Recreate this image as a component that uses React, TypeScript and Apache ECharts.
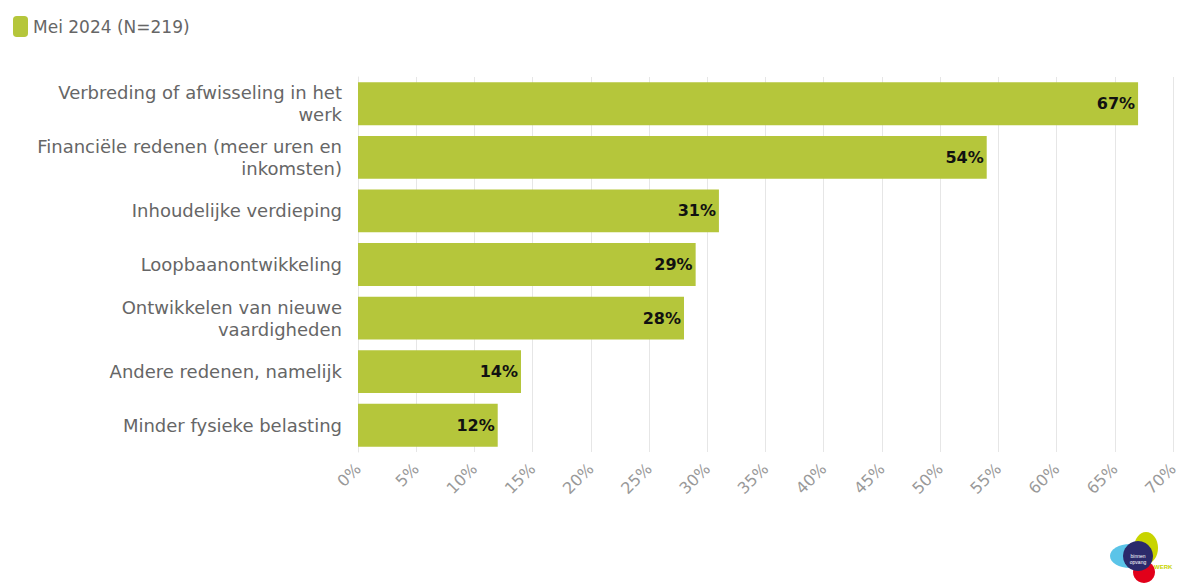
import React, { useEffect, useRef } from "react";
import * as echarts from "echarts";

const categories = [
  "Verbreding of afwisseling in het\nwerk",
  "Financiële redenen (meer uren en\ninkomsten)",
  "Inhoudelijke verdieping",
  "Loopbaanontwikkeling",
  "Ontwikkelen van nieuwe\nvaardigheden",
  "Andere redenen, namelijk",
  "Minder fysieke belasting",
];
const values = [67, 54, 31, 29, 28, 14, 12];
const seriesName = "Mei 2024 (N=219)";

const FONT = "'DejaVu Sans', 'Open Sans', sans-serif";

export default function App() {
  const ref = useRef<HTMLDivElement>(null);
  useEffect(() => {
    document.body.style.margin = "0";
    const chart = echarts.init(ref.current!, null, { renderer: "svg" });
    chart.setOption({
      animation: false,
      textStyle: { fontFamily: FONT },
      legend: {
        left: 8,
        top: 11,
        icon: "roundRect",
        itemWidth: 15,
        itemHeight: 21,
        itemGap: 4,
        textStyle: { fontSize: 17, color: "#666", fontFamily: FONT },
        data: [seriesName],
      },
      grid: { left: 358, right: 9, top: 77, bottom: 132, containLabel: false },
      xAxis: {
        type: "value",
        min: 0,
        max: 70,
        interval: 5,
        axisLine: { show: false },
        axisTick: { show: false },
        splitLine: { show: true, lineStyle: { color: "#e6e6e6", width: 1 } },
        axisLabel: {
          rotate: 45,
          formatter: "{value}%",
          color: "#999",
          fontSize: 16,
          margin: 14,
          fontFamily: FONT,
        },
      },
      yAxis: {
        type: "category",
        inverse: true,
        data: categories,
        axisLine: { show: true, lineStyle: { color: "#e6e6e6" } },
        axisTick: { show: false },
        axisLabel: {
          color: "#666",
          fontSize: 18,
          lineHeight: 22,
          margin: 16,
          fontFamily: FONT,
        },
      },
      series: [
        {
          name: seriesName,
          type: "bar",
          data: values,
          barCategoryGap: "20%",
          itemStyle: { color: "#b5c63b" },
          label: {
            show: true,
            position: "insideRight",
            formatter: "{c}%",
            color: "#111",
            fontWeight: "bold",
            fontSize: 16,
            offset: [2, 0],
            fontFamily: FONT,
          },
        },
      ],
      graphic: [
        {
          type: "group",
          left: 1110,
          top: 532,
          children: [
            { type: "ellipse", shape: { cx: 22, cy: 30, rx: 20, ry: 12 }, style: { fill: "#5bc4e8" } },
            { type: "ellipse", shape: { cx: 38, cy: 22, rx: 12, ry: 16 }, style: { fill: "#c8d400" } },
            { type: "circle", shape: { cx: 36, cy: 46, r: 11 }, style: { fill: "#e2001a" } },
            { type: "circle", shape: { cx: 30, cy: 30, r: 15 }, style: { fill: "#2b2a6b" } },
            { type: "text", style: { x: 30, y: 27, text: "binnen", fill: "#fff", fontSize: 5, align: "center" } },
            { type: "text", style: { x: 30, y: 33, text: "opvang", fill: "#fff", fontSize: 5, align: "center" } },
            { type: "text", style: { x: 46, y: 38, text: "WERK", fill: "#c8d400", fontSize: 6, fontWeight: "bold" } },
          ],
        },
      ],
    });
    return () => chart.dispose();
  }, []);
  return <div ref={ref} style={{ width: 1182, height: 584 }} />;
}
